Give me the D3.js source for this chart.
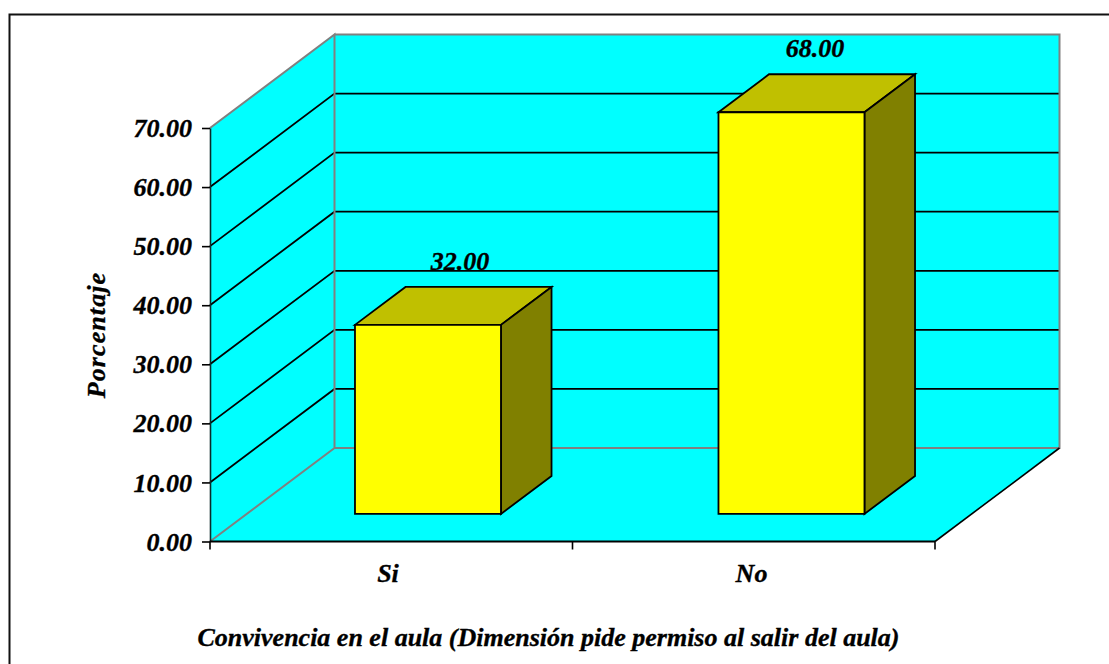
<!DOCTYPE html>
<html><head><meta charset="utf-8">
<script src="https://cdn.jsdelivr.net/npm/d3@7"></script>
<style>html,body{margin:0;padding:0;background:#fff}svg{display:block}
text{font-family:"Liberation Serif","Times New Roman",serif;font-weight:bold;font-style:italic;fill:#000;stroke:#000;stroke-width:0.35px}</style>
</head><body><svg id="c" width="1109" height="664"></svg>
<script>
const categories = ["Si", "No"];
const values = [32.00, 68.00];
const yTicks = [0, 10, 20, 30, 40, 50, 60, 70];
const yTitle = "Porcentaje";
const xTitle = "Convivencia en el aula (Dimensión pide permiso al salir del aula)";

const svg = d3.select("#c");
const x0 = 210, x1 = 935, yBase = 541.5, yTop = 128;
const depthX = 124.5, depthY = -93.5;
const y = d3.scaleLinear().domain([0, 70]).range([yBase, yTop]);
const x = d3.scaleBand().domain(categories).range([x0 - 0.5, x1 + 1.5]);
const xLabel = d3.scaleBand().domain(categories).range([282.5, 992.5]);
const barW = 146, barNear = 0.295, barFar = 0.701;
const line = d3.line();
const P = (xp, v, d) => [xp + depthX * d, y(v) + depthY * d];

// frame
svg.append("rect").attr("x", 9.5).attr("y", 14.5).attr("width", 1200).attr("height", 800)
  .attr("fill", "#fff").attr("stroke", "#111").attr("stroke-width", 2);

const poly = (pts, fill) => svg.append("path").attr("d", line(pts) + "Z").attr("fill", fill);
const ln = (pts, stroke, sw) => svg.append("path").attr("d", line(pts)).attr("fill", "none")
  .attr("stroke", stroke).attr("stroke-width", sw);

// walls and floor
poly([P(x0,0,0), P(x0,70,0), P(x0,70,1), P(x0,0,1)], "#00ffff");
poly([P(x0,0,1), P(x0,70,1), P(x1,70,1), P(x1,0,1)], "#00ffff");
poly([P(x0,0,0), P(x0,0,1), P(x1,0,1), P(x1,0,0)], "#00ffff");

// gridlines
yTicks.filter(t => t > 0 && t < 70).forEach(t => {
  ln([P(x0,t,0), P(x0,t,1), P(x1,t,1)], "#000", 1.8);
});
// grey wall edges
ln([P(x0,0,0), P(x0,0,1), P(x0,70,1), P(x0,70,0)], "#808080", 2);
ln([P(x0,70,1), P(x1,70,1), P(x1,0,1), P(x0,0,1)], "#808080", 2);
// floor right edge
ln([P(x1,0,0), P(x1,0,1)], "#000", 1.6);

// y axis
const yAxis = svg.append("g").attr("transform", `translate(${x0},0)`)
  .call(d3.axisLeft(y).tickValues(yTicks).tickFormat(d3.format(".2f")).tickSize(8).tickSizeOuter(0));
yAxis.select(".domain").attr("stroke", "#0a2a2a").attr("stroke-width", 1.6);
yAxis.selectAll(".tick line").attr("stroke", "#000").attr("stroke-width", 1.6);
yAxis.selectAll(".tick text").attr("x", -18).attr("dy", "0.33em")
  .style("font-size", "26px").attr("font-family", null);

// x axis
ln([[x0, yBase], [x1, yBase]], "#000", 2.2);
[x0, (x0 + x1) / 2, x1].forEach(t => ln([[t, yBase], [t, yBase + 8]], "#000", 1.6));
svg.selectAll(".cat").data(categories).join("text").attr("class", "cat")
  .attr("x", d => x(d) + x.bandwidth() / 2 - 3.25).attr("y", 582)
  .attr("text-anchor", "middle").style("font-size", "26px").text(d => d);

// bars
const bars = svg.selectAll(".bar").data(categories.map((c, i) => ({c, v: values[i]}))).join("g").attr("class", "bar");
bars.each(function(d) {
  const g = d3.select(this);
  const bl = x(d.c) + x.bandwidth() / 2 - barW / 2;
  const br = bl + barW;
  const part = (pts, fill) => g.append("path").attr("d", line(pts) + "Z").attr("fill", fill)
    .attr("stroke", "#000").attr("stroke-width", 1.8).attr("stroke-linejoin", "miter");
  part([P(bl,d.v,barNear), P(bl,d.v,barFar), P(br,d.v,barFar), P(br,d.v,barNear)], "#c0c000");
  part([P(br,0,barNear), P(br,d.v,barNear), P(br,d.v,barFar), P(br,0,barFar)], "#808000");
  part([P(bl,0,barNear), P(bl,d.v,barNear), P(br,d.v,barNear), P(br,0,barNear)], "#ffff00");
  const top = P(bl, d.v, barFar);
  g.append("text").attr("x", xLabel(d.c) + xLabel.bandwidth() / 2).attr("y", top[1] - 17)
    .attr("text-anchor", "middle").style("font-size", "26px").text(d3.format(".2f")(d.v));
});

// titles
svg.append("text").attr("transform", "translate(105,335) rotate(-90)").attr("text-anchor", "middle")
  .style("font-size", "26px").style("letter-spacing", "1.1px").text(yTitle);
svg.append("text").attr("x", 548.5).attr("y", 646).attr("text-anchor", "middle")
  .style("font-size", "26px").text(xTitle);
</script></body></html>
